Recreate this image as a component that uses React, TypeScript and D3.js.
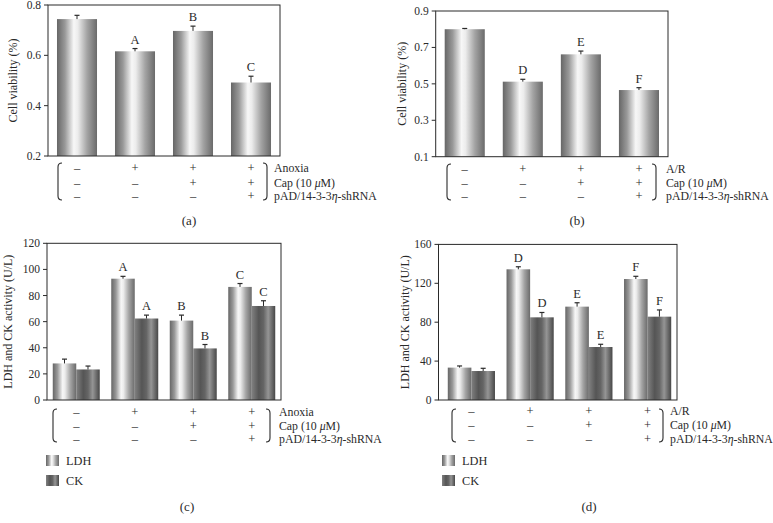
import React from "react";
import * as d3 from "d3";

// ---------- data ----------
const groups = ["g1", "g2", "g3", "g4"];
const rowAnoxia = ["–", "+", "+", "+"];
const rowCap = ["–", "–", "+", "+"];
const rowShRNA = ["–", "–", "–", "+"];
const rowLabelsAnoxia = ["Anoxia", "Cap (10 μM)", "pAD/14-3-3η-shRNA"];
const rowLabelsAR = ["A/R", "Cap (10 μM)", "pAD/14-3-3η-shRNA"];

const viabilityA = [0.744, 0.616, 0.697, 0.492];
const viabilityAErr = [0.015, 0.011, 0.019, 0.025];
const lettersA = ["", "A", "B", "C"];
const ticksA = [0.2, 0.4, 0.6, 0.8];

const viabilityB = [0.8, 0.512, 0.662, 0.466];
const viabilityBErr = [0.004, 0.013, 0.018, 0.013];
const lettersB = ["", "D", "E", "F"];
const ticksB = [0.1, 0.3, 0.5, 0.7, 0.9];

const ldhC = [28, 92.9, 60.8, 86.6];
const ldhCErr = [3.3, 1.8, 4.2, 2.6];
const ckC = [23.4, 62.4, 39.5, 72];
const ckCErr = [2.6, 2.6, 3.0, 4.0];
const lettersC = ["", "A", "B", "C"];
const ticksC = [0, 20, 40, 60, 80, 100, 120];

const ldhD = [33.3, 134.4, 96, 124.4];
const ldhDErr = [1.7, 2.6, 4.0, 2.8];
const ckD = [29.8, 85, 54.5, 85.7];
const ckDErr = [2.8, 5.0, 2.8, 6.9];
const lettersD = ["", "D", "E", "F"];
const ticksD = [0, 40, 80, 120, 160];

const legendNames = ["LDH", "CK"];

const FONT = "'Liberation Serif', 'DejaVu Serif', serif";
const INK = "#2a2a2a";

type Series = { name: string; values: number[]; errs: number[]; letters: string[]; fill: string };

type PanelCfg = {
  axisX: number;
  range: [number, number];
  right: number;
  yTop: number;
  yBot: number;
  domain: [number, number];
  ticks: number[];
  fmt: (v: number) => string;
  series: Series[];
  padInner: number;
  padOuter: number;
  ylabel: string;
  ylabelX: number;
  rowLabels: string[];
  rowY: number[];
  labelX: number;
  bracketL: number;
  bracketR: number;
  bracketTop: number;
  bracketBot: number;
  caption: string;
  captionX: number;
  captionY: number;
  legend?: { x: number; y: number[] };
};

function Bracket({ x, top, bot, dir }: { x: number; top: number; bot: number; dir: number }) {
  const c = 4 * dir;
  const d = `M${x + c},${top} Q${x},${top} ${x},${top + 4} L${x},${bot - 4} Q${x},${bot} ${x + c},${bot}`;
  return <path d={d} fill="none" stroke={INK} strokeWidth={1.1} />;
}

function Panel({ cfg }: { cfg: PanelCfg }) {
  const y = d3.scaleLinear().domain(cfg.domain).range([cfg.yBot, cfg.yTop]);
  const x = d3
    .scaleBand<string>()
    .domain(groups)
    .range(cfg.range)
    .paddingInner(cfg.padInner)
    .paddingOuter(cfg.padOuter);
  const sub = d3
    .scaleBand<string>()
    .domain(cfg.series.map((s) => s.name))
    .range([0, x.bandwidth()]);
  const rows = [rowAnoxia, rowCap, rowShRNA];
  return (
    <g fontFamily={FONT} fill={INK}>
      {cfg.series.map((s) =>
        s.values.map((v, i) => {
          const bx = (x(groups[i]) as number) + (sub(s.name) as number);
          const bw = sub.bandwidth();
          const cx = bx + bw / 2;
          const top = y(v);
          const et = y(v + s.errs[i]);
          return (
            <g key={s.name + i}>
              <rect x={bx} y={top} width={bw} height={cfg.yBot - top} fill={s.fill} />
              <line x1={cx} x2={cx} y1={top} y2={et} stroke={INK} strokeWidth={1} />
              <line x1={cx - 2.5} x2={cx + 2.5} y1={et} y2={et} stroke={INK} strokeWidth={1.2} />
              {s.letters[i] && (
                <text x={cx} y={et - 5} textAnchor="middle" fontSize={12.5}>
                  {s.letters[i]}
                </text>
              )}
            </g>
          );
        })
      )}
      <rect
        x={cfg.axisX}
        y={cfg.yTop}
        width={cfg.right - cfg.axisX}
        height={cfg.yBot - cfg.yTop}
        fill="none"
        stroke={INK}
        strokeWidth={1}
      />
      {cfg.ticks.map((t) => (
        <g key={t}>
          <line x1={cfg.axisX - 4} x2={cfg.axisX} y1={y(t)} y2={y(t)} stroke={INK} strokeWidth={1} />
          <text x={cfg.axisX - 7} y={y(t)} dy="0.35em" textAnchor="end" fontSize={11.5}>
            {cfg.fmt(t)}
          </text>
        </g>
      ))}
      <text
        transform={`translate(${cfg.ylabelX},${(cfg.yTop + cfg.yBot) / 2}) rotate(-90)`}
        textAnchor="middle"
        dy="0.35em"
        fontSize={12}
      >
        {cfg.ylabel}
      </text>
      {rows.map((r, ri) =>
        r.map((sym, i) => (
          <text
            key={ri + "-" + i}
            x={(x(groups[i]) as number) + x.bandwidth() / 2}
            y={cfg.rowY[ri]}
            dy="0.35em"
            textAnchor="middle"
            fontSize={12.5}
          >
            {sym}
          </text>
        ))
      )}
      <Bracket x={cfg.bracketL} top={cfg.bracketTop} bot={cfg.bracketBot} dir={1} />
      <Bracket x={cfg.bracketR} top={cfg.bracketTop} bot={cfg.bracketBot} dir={-1} />
      {cfg.rowLabels.map((lab, ri) => {
        const parts = lab.split(/(μ|η)/);
        return (
          <text key={lab} x={cfg.labelX} y={cfg.rowY[ri]} dy="0.35em" fontSize={11.8}>
            {parts.map((p, k) =>
              p === "μ" || p === "η" ? (
                <tspan key={k} fontStyle="italic">
                  {p}
                </tspan>
              ) : (
                <tspan key={k}>{p}</tspan>
              )
            )}
          </text>
        );
      })}
      {cfg.legend &&
        cfg.series.map((s, k) => (
          <g key={"lg" + k}>
            <rect x={cfg.legend!.x} y={cfg.legend!.y[k]} width={13} height={11} fill={s.fill} />
            <text x={cfg.legend!.x + 20} y={cfg.legend!.y[k] + 5.5} dy="0.35em" fontSize={12.3}>
              {legendNames[k]}
            </text>
          </g>
        ))}
      <text x={cfg.captionX} y={cfg.captionY} dy="0.35em" textAnchor="middle" fontSize={13}>
        {cfg.caption}
      </text>
    </g>
  );
}

export default function App() {
  const fmt1 = (v: number) => d3.format(".1f")(v);
  const fmt0 = (v: number) => d3.format("d")(v);
  const light = "url(#gLight)";
  const dark = "url(#gDark)";

  const panels: PanelCfg[] = [
    {
      axisX: 48, range: [48, 280], right: 280, yTop: 5, yBot: 156,
      domain: [0.2, 0.8], ticks: ticksA, fmt: fmt1,
      series: [{ name: "v", values: viabilityA, errs: viabilityAErr, letters: lettersA, fill: light }],
      padInner: 0.31, padOuter: 0.155,
      ylabel: "Cell viability (%)", ylabelX: 13,
      rowLabels: rowLabelsAnoxia, rowY: [168, 182.5, 196], labelX: 274,
      bracketL: 58, bracketR: 267, bracketTop: 163, bracketBot: 200,
      caption: "(a)", captionX: 189, captionY: 220,
    },
    {
      axisX: 435.7, range: [435.7, 668], right: 668, yTop: 11, yBot: 156.7,
      domain: [0.1, 0.9], ticks: ticksB, fmt: fmt1,
      series: [{ name: "v", values: viabilityB, errs: viabilityBErr, letters: lettersB, fill: light }],
      padInner: 0.31, padOuter: 0.155,
      ylabel: "Cell viability (%)", ylabelX: 402,
      rowLabels: rowLabelsAR, rowY: [169, 182.7, 196], labelX: 666,
      bracketL: 447, bracketR: 656, bracketTop: 164, bracketBot: 200,
      caption: "(b)", captionX: 577, captionY: 220,
    },
    {
      axisX: 47, range: [47, 281], right: 281, yTop: 243.3, yBot: 400,
      domain: [0, 120], ticks: ticksC, fmt: fmt0,
      series: [
        { name: "LDH", values: ldhC, errs: ldhCErr, letters: lettersC, fill: light },
        { name: "CK", values: ckC, errs: ckCErr, letters: lettersC, fill: dark },
      ],
      padInner: 0.197, padOuter: 0.0985,
      ylabel: "LDH and CK activity (U/L)", ylabelX: 8,
      rowLabels: rowLabelsAnoxia, rowY: [411.5, 425.5, 438.5], labelX: 279,
      bracketL: 53, bracketR: 270, bracketTop: 409, bracketBot: 442,
      caption: "(c)", captionX: 187, captionY: 506,
      legend: { x: 46, y: [455, 475] },
    },
    {
      axisX: 438.5, range: [442, 677], right: 677, yTop: 244.4, yBot: 400,
      domain: [0, 160], ticks: ticksD, fmt: fmt0,
      series: [
        { name: "LDH", values: ldhD, errs: ldhDErr, letters: lettersD, fill: light },
        { name: "CK", values: ckD, errs: ckDErr, letters: lettersD, fill: dark },
      ],
      padInner: 0.197, padOuter: 0.0985,
      ylabel: "LDH and CK activity (U/L)", ylabelX: 405,
      rowLabels: rowLabelsAR, rowY: [411, 424.5, 438.5], labelX: 670,
      bracketL: 452, bracketR: 663, bracketTop: 409, bracketBot: 442,
      caption: "(d)", captionX: 589, captionY: 506,
      legend: { x: 442, y: [455, 475] },
    },
  ];

  return (
    <svg
      width={773}
      height={523}
      style={{ position: "absolute", left: 0, top: 0, background: "#fff" }}
    >
      <defs>
        <linearGradient id="gLight" x1="0" x2="1" y1="0" y2="0">
          <stop offset="0" stopColor="#666" />
          <stop offset="0.2" stopColor="#999" />
          <stop offset="0.42" stopColor="#f7f7f7" />
          <stop offset="0.52" stopColor="#ececec" />
          <stop offset="0.75" stopColor="#a4a4a4" />
          <stop offset="1" stopColor="#6a6a6a" />
        </linearGradient>
        <linearGradient id="gDark" x1="0" x2="1" y1="0" y2="0">
          <stop offset="0" stopColor="#808080" />
          <stop offset="0.3" stopColor="#555" />
          <stop offset="0.5" stopColor="#656565" />
          <stop offset="0.7" stopColor="#959595" />
          <stop offset="1" stopColor="#474747" />
        </linearGradient>
      </defs>
      <rect x={0} y={0} width={773} height={523} fill="#fff" />
      {panels.map((p, i) => (
        <Panel key={i} cfg={p} />
      ))}
    </svg>
  );
}
